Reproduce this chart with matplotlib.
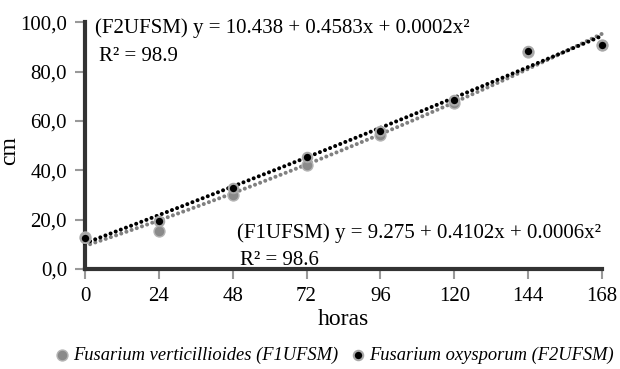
import numpy as np
import matplotlib.pyplot as plt

plt.rcParams['font.family'] = ['Liberation Serif', 'DejaVu Serif']

horas = [0, 24, 48, 72, 96, 120, 144, 168]
f1_cm = [12.8, 15.5, 30.0, 42.0, 54.3, 67.3, 88.0, 90.6]   # F. verticillioides (F1UFSM)
f2_cm = [12.5, 19.4, 33.0, 45.5, 56.0, 68.4, 88.3, 90.6]   # F. oxysporum (F2UFSM)
yticks = [0, 20, 40, 60, 80, 100]
xticks = horas

fig = plt.figure(figsize=(6.2, 3.69), dpi=100)
ax = fig.add_axes([0.137, 0.271, 0.834, 0.669])

# linhas de tendencia (ajuste quadratico)
xx = np.linspace(0, 168, 200)
c1 = np.polyfit(horas, f1_cm, 2)
c2 = np.polyfit(horas, f2_cm, 2)
ax.plot(xx, np.polyval(c1, xx), color='#808080', lw=2.9, ls=(0, (0.01, 1.35)),
        dash_capstyle='round', zorder=2, clip_on=False)
ax.plot(xx, np.polyval(c2, xx), color='black', lw=2.9, ls=(0, (0.01, 1.35)),
        dash_capstyle='round', zorder=3, clip_on=False)

ax.scatter(horas, f1_cm, s=62, c='#8a8a8a', edgecolors='#b5b5b5', linewidths=1.0,
           zorder=4, clip_on=False, label='Fusarium verticillioides (F1UFSM)')
ax.scatter(horas, f2_cm, s=46, c='black', edgecolors='#a8a8a8', linewidths=1.5,
           zorder=5, clip_on=False, label='Fusarium oxysporum (F2UFSM)')

ax.set_xlim(0, 168)
ax.set_ylim(0, 100)
ax.set_xticks(xticks)
ax.set_yticks(yticks)
ax.set_yticklabels([f'{v},0' for v in yticks])
ax.tick_params(direction='out', length=7, width=1.5, color='#999999',
               labelsize=15, pad=6)
ax.spines['top'].set_visible(False)
ax.spines['right'].set_visible(False)
for s in ['left', 'bottom']:
    ax.spines[s].set_linewidth(3)
    ax.spines[s].set_color('#333333')

ax.set_xlabel('horas', fontsize=17, labelpad=2)
ax.set_ylabel('cm', fontsize=17)
ax.yaxis.set_label_coords(-0.126, 0.48)

ax.text(0.02, 0.975, '(F2UFSM) y = 10.438 + 0.4583x + 0.0002x²', transform=ax.transAxes,
        fontsize=15, va='center', ha='left')
ax.text(0.027, 0.86, 'R² = 98.9', transform=ax.transAxes, fontsize=15, va='center', ha='left')
ax.text(0.295, 0.145, '(F1UFSM) y = 9.275 + 0.4102x + 0.0006x²', transform=ax.transAxes,
        fontsize=15, va='center', ha='left')
ax.text(0.3, 0.035, 'R² = 98.6', transform=ax.transAxes, fontsize=15, va='center', ha='left')

fig.legend(loc='center', bbox_to_anchor=(0.539, 0.038), ncol=2, frameon=False,
           prop={'style': 'italic', 'size': 13.3}, handlelength=0.8, handletextpad=0.2,
           columnspacing=0.7, borderaxespad=0, borderpad=0)

fig.savefig('out.png', dpi=100)
